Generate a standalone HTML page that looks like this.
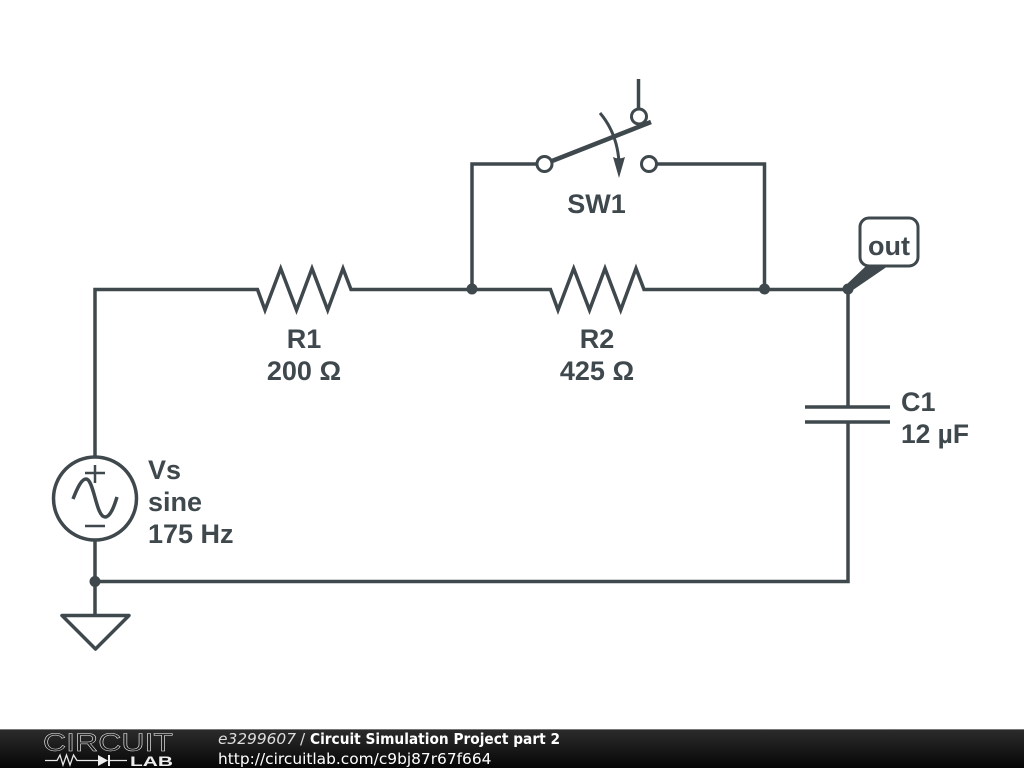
<!DOCTYPE html>
<html><head><meta charset="utf-8"><style>
html,body{margin:0;padding:0;background:#fff;width:1024px;height:768px;overflow:hidden}
svg{display:block}
.t{font-family:"Liberation Sans",sans-serif;font-weight:bold;font-size:27px;fill:#3f484d}
.f{font-family:"DejaVu Sans",sans-serif;font-size:15.4px;fill:#fff}
</style></head><body>
<svg width="1024" height="768" viewBox="0 0 1024 768" xmlns="http://www.w3.org/2000/svg">
<defs><linearGradient id="g" x1="0" y1="0" x2="0" y2="1"><stop offset="0" stop-color="#2c2c2c"/><stop offset="1" stop-color="#060606"/></linearGradient></defs>
<g fill="none" stroke="#3f484d" stroke-width="3.500" stroke-linejoin="miter">
<path d="M95 457V289.500H257.500L265 310L280.700 268.500L296.500 310L312 268.500L327.700 310L343 268.500L351 289.500H550.500L558 310L573.700 268.500L589.500 310L605 268.500L620.700 310L636 268.500L644 289.500H848V407"/>
<path d="M848 422V581.500H95"/>
<path d="M95 540V615"/>
<path d="M472 289V164H537"/>
<path d="M657 164H764.500V289"/>
<path d="M638.500 79V108"/>
<path d="M805 407H890M805 422H890"/>
<circle cx="95" cy="498.500" r="41.500"/>
<path d="M62 615.500H129L95.500 649Z" stroke-linejoin="round"/>
<circle cx="544.500" cy="164" r="7.500" stroke-width="3"/>
<circle cx="649" cy="164" r="7.500" stroke-width="3"/>
<circle cx="639" cy="116.500" r="7.500" stroke-width="3"/>
<path d="M552 161L651 122" stroke-width="4.500"/>
<path d="M600 113Q617 133 619 162" stroke-width="3"/>
<path d="M85 473H105M95 465V483M85 526H105" stroke-width="2.500"/>
<path d="M73 499C78 486 82 479 86 479C94 479 96 517 105 517C110 517 114 507 117 497" stroke-width="3.500"/>
</g>
<path d="M613 157Q619 160 625 157L619 178Z" fill="#3f484d"/>
<circle cx="95" cy="581.500" r="5.500" fill="#3f484d"/>
<circle cx="472" cy="289" r="5.500" fill="#3f484d"/>
<circle cx="764.500" cy="289" r="5.500" fill="#3f484d"/>
<circle cx="848" cy="289" r="5.500" fill="#3f484d"/>
<path d="M846 285L866 266H888L850 292Z" fill="#3f484d"/>
<rect x="860" y="218" width="58" height="48" rx="9" fill="#fff" stroke="#3f484d" stroke-width="3"/>
<text class="t" x="889" y="255" text-anchor="middle">out</text>
<text class="t" x="596.500" y="213" text-anchor="middle">SW1</text>
<text class="t" x="304" y="348" text-anchor="middle">R1</text>
<text class="t" x="304" y="380" text-anchor="middle">200 Ω</text>
<text class="t" x="597" y="348" text-anchor="middle">R2</text>
<text class="t" x="597" y="380" text-anchor="middle">425 Ω</text>
<text class="t" x="901" y="411">C1</text>
<text class="t" x="901" y="443" textLength="68" lengthAdjust="spacingAndGlyphs">12 µF</text>
<text class="t" x="148" y="479">Vs</text>
<text class="t" x="148" y="511">sine</text>
<text class="t" x="148" y="543">175 Hz</text>
<rect x="0" y="729" width="1024" height="39" fill="url(#g)"/>
<rect x="0" y="729" width="1024" height="1" fill="#777"/>
<text x="43" y="751" textLength="130" lengthAdjust="spacingAndGlyphs" style="font-family:'Liberation Sans',sans-serif;font-size:25px;fill:none;stroke:#f0f0f0;stroke-width:.5">CIRCUIT</text>
<path d="M45 760.500H57L60 755L63 765L66.500 755L70 765L73.500 755L77 760.500H98M110 760.500H127" fill="none" stroke="#e8e8e8" stroke-width="1.300"/>
<path d="M98 755V766L108 760.500Z M108 755h2v11h-2z" fill="#eee"/>
<text x="130" y="766" textLength="43" lengthAdjust="spacingAndGlyphs" style="font-family:'Liberation Sans',sans-serif;font-weight:bold;font-size:14px;fill:#eee">LAB</text>
<text class="f" x="218" y="744" font-style="italic" style="fill:#ddd">e3299607</text>
<text class="f" x="300" y="744" style="fill:#ddd">/</text>
<text class="f" x="310" y="744" font-weight="bold" textLength="250" lengthAdjust="spacingAndGlyphs">Circuit Simulation Project part 2</text>
<text class="f" x="218" y="764">http://circuitlab.com/c9bj87r67f664</text>
</svg>
</body></html>
